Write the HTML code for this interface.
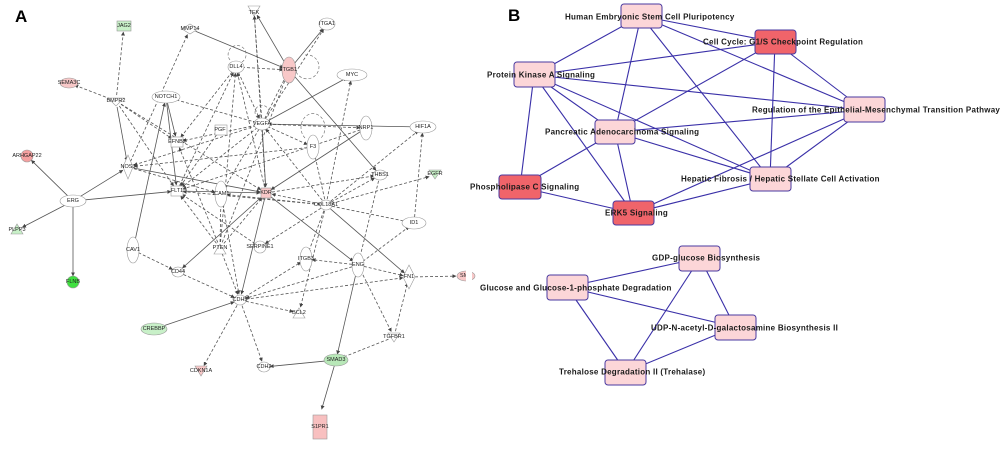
<!DOCTYPE html>
<html><head><meta charset="utf-8"><style>
html,body{margin:0;padding:0;background:#fff;}
svg{display:block;}
.a text{font-family:"Liberation Sans",sans-serif;font-size:5.5px;fill:#222;text-anchor:middle;dominant-baseline:central;}
.b text{font-family:"Liberation Sans",sans-serif;font-size:8px;letter-spacing:0.25px;font-weight:bold;fill:#1a1a1a;dominant-baseline:central;}
</style></head><body>
<svg id="s" width="1000" height="450" viewBox="0 0 1000 450" xmlns="http://www.w3.org/2000/svg">
<defs><marker id="ar" viewBox="0 0 6 6" refX="5.5" refY="3" markerWidth="5" markerHeight="5" orient="auto"><path d="M0,0L6,3L0,6z" fill="#444"/></marker></defs>
<text x="15" y="22" font-family="Liberation Sans,sans-serif" font-weight="bold" font-size="17">A</text>
<text x="508" y="21" font-family="Liberation Sans,sans-serif" font-weight="bold" font-size="17">B</text>
<g id="ea" stroke="#555" stroke-width="0.8" fill="none"></g>
<g id="eb" stroke="#3a30a8" stroke-width="1.1"></g>
<g id="na" class="a" stroke="#999" stroke-width="0.6">
<path d="M305,55 a12,12 0 1 1 -10,12" stroke="#666" stroke-dasharray="3,2" fill="none"/>
<path d="M230,60 a9,9 0 1 1 12,2" stroke="#666" stroke-dasharray="3,2" fill="none"/>
<path d="M258,118 a7,7 0 1 1 8,0" stroke="#666" stroke-dasharray="3,2" fill="none"/>
<path d="M305,138 a12,14 0 1 1 16,0" stroke="#666" stroke-dasharray="3,2" fill="none"/>
<polygon points="248,6 260,6 254,16" fill="#fff"/>
<rect x="117" y="21" width="14" height="10" fill="#c8f0c8"/>
<polygon points="182,29 190,24 198,29 190,34" fill="#fff"/>
<ellipse cx="327" cy="24" rx="8" ry="6" fill="#fff"/>
<ellipse cx="236" cy="67" rx="8" ry="6" fill="#fff"/>
<ellipse cx="289" cy="70" rx="7" ry="13" fill="#f8c8c8"/>
<ellipse cx="352" cy="75" rx="15" ry="6" fill="#fff"/>
<ellipse cx="69" cy="83" rx="9" ry="5" fill="#f8c8c8"/>
<polygon points="108,98 124,98 116,106" fill="#fff"/>
<ellipse cx="166" cy="97" rx="14" ry="6" fill="#fff"/>
<ellipse cx="262" cy="124" rx="8" ry="6" fill="#fff"/>
<rect x="215" y="125" width="12" height="10" fill="#fff"/>
<ellipse cx="366" cy="128" rx="6" ry="12" fill="#fff"/>
<ellipse cx="423" cy="127" rx="13" ry="6" fill="#fff"/>
<rect x="171" y="137" width="12" height="10" fill="#fff"/>
<ellipse cx="313" cy="147" rx="6" ry="12" fill="#fff"/>
<circle cx="27" cy="156" r="6" fill="#f4a0a0"/>
<polygon points="128,155 133,167 128,179 123,167" fill="#fff"/>
<ellipse cx="380" cy="175" rx="7" ry="5" fill="#fff"/>
<polygon points="429,170 441,170 435,179" fill="#c8f0c8"/>
<rect x="171" y="186" width="12" height="10" fill="#fff"/>
<ellipse cx="221" cy="194" rx="6" ry="13" fill="#fff"/>
<rect x="261" y="188" width="10" height="10" fill="#f8c8c8"/>
<ellipse cx="326" cy="205" rx="6" ry="5" fill="#fff"/>
<ellipse cx="73" cy="201" rx="13" ry="6" fill="#fff"/>
<polygon points="11,234 23,234 17,224" fill="#c8f0c8"/>
<ellipse cx="414" cy="223" rx="12" ry="6" fill="#fff"/>
<ellipse cx="133" cy="250" rx="6" ry="13" fill="#fff"/>
<polygon points="214,254 226,254 220,244" fill="#fff"/>
<ellipse cx="260" cy="247" rx="6" ry="6" fill="#fff"/>
<ellipse cx="306" cy="259" rx="6" ry="12" fill="#fff"/>
<ellipse cx="358" cy="265" rx="6" ry="12" fill="#fff"/>
<polygon points="409,265 415,277 409,289 403,277" fill="#fff"/>
<ellipse cx="466" cy="276" rx="9" ry="5" fill="#f8c8c8"/>
<circle cx="73" cy="282" r="6" fill="#40e040"/>
<ellipse cx="178" cy="272" rx="6" ry="5" fill="#fff"/>
<ellipse cx="240" cy="300" rx="6" ry="5" fill="#fff"/>
<polygon points="293,318 305,318 299,308" fill="#fff"/>
<ellipse cx="154" cy="329" rx="13" ry="6" fill="#c8f0c8"/>
<polygon points="388,333 400,333 394,342" fill="#fff"/>
<ellipse cx="336" cy="360" rx="12" ry="6" fill="#b8e8b8"/>
<polygon points="195,366 207,366 201,376" fill="#f8c8c8"/>
<ellipse cx="264" cy="367" rx="6" ry="5" fill="#fff"/>
<rect x="313" y="415" width="14" height="24" fill="#f8c0c0"/>
<g stroke="none">
<text x="254" y="13">TEK</text><text x="124" y="26">JAG2</text><text x="190" y="29">MMP14</text><text x="327" y="24">ITGA1</text><text x="236" y="67">DLL4</text><text x="289" y="70">ITGB1</text><text x="352" y="75">MYC</text><text x="69" y="83">SEMA3C</text><text x="116" y="101">BMPR2</text><text x="166" y="97">NOTCH1</text><text x="262" y="124">VEGFA</text><text x="220" y="130">PGF</text><text x="366" y="128">NRP1</text><text x="423" y="127">HIF1A</text><text x="177" y="142">EFNB2</text><text x="313" y="147">F3</text><text x="27" y="156">ARHGAP22</text><text x="128" y="167">NOS3</text><text x="380" y="175">THBS1</text><text x="435" y="174">EGFR</text><text x="177" y="191">FLT1</text><text x="221" y="194">ICAM1</text><text x="266" y="193">KDR</text><text x="326" y="205">COL18A1</text><text x="73" y="201">ERG</text><text x="17" y="230">PLPP3</text><text x="414" y="223">ID1</text><text x="133" y="250">CAV1</text><text x="220" y="248">PTEN</text><text x="260" y="247">SERPINE1</text><text x="306" y="259">ITGB3</text><text x="358" y="265">ENG</text><text x="409" y="277">FN1</text><text x="466" y="276">SMA</text><text x="73" y="282">FLNB</text><text x="178" y="272">CD44</text><text x="240" y="300">CDH5</text><text x="299" y="313">BCL2</text><text x="154" y="329">CREBBP</text><text x="394" y="337">TGFBR1</text><text x="336" y="360">SMAD3</text><text x="201" y="371">CDKN1A</text><text x="264" y="367">CDH2</text><text x="320" y="427">S1PR1</text>
</g></g>
<rect x="466" y="0" width="6" height="450" fill="#fff"/>
<g id="nb" class="b" stroke="#4a3aa0" stroke-width="1">
<rect x="621" y="4" width="41" height="24" rx="3" fill="#fcd6d8"/>
<rect x="755" y="30" width="41" height="24" rx="3" fill="#f0646a"/>
<rect x="514" y="62" width="41" height="25" rx="3" fill="#fcd6d8"/>
<rect x="844" y="97" width="41" height="25" rx="3" fill="#fcd6d8"/>
<rect x="595" y="120" width="40" height="24" rx="3" fill="#fcd6d8"/>
<rect x="499" y="175" width="42" height="24" rx="3" fill="#f0646a"/>
<rect x="750" y="167" width="41" height="24" rx="3" fill="#fcd6d8"/>
<rect x="613" y="201" width="41" height="24" rx="3" fill="#f0646a"/>
<rect x="679" y="246" width="41" height="25" rx="3" fill="#fcd6d8"/>
<rect x="547" y="275" width="41" height="25" rx="3" fill="#fcd6d8"/>
<rect x="715" y="315" width="41" height="25" rx="3" fill="#fcd6d8"/>
<rect x="605" y="360" width="41" height="25" rx="3" fill="#fcd6d8"/>
<g stroke="none">
<text x="565" y="17">Human Embryonic Stem Cell Pluripotency</text>
<text x="703" y="42">Cell Cycle: G1/S Checkpoint Regulation</text>
<text x="487" y="75">Protein Kinase A Signaling</text>
<text x="752" y="110">Regulation of the Epithelial-Mesenchymal Transition Pathway</text>
<text x="545" y="132">Pancreatic Adenocarcinoma Signaling</text>
<text x="470" y="187">Phospholipase C Signaling</text>
<text x="681" y="179">Hepatic Fibrosis / Hepatic Stellate Cell Activation</text>
<text x="605" y="213">ERK5 Signaling</text>
<text x="652" y="258">GDP-glucose Biosynthesis</text>
<text x="480" y="288">Glucose and Glucose-1-phosphate Degradation</text>
<text x="651" y="328">UDP-N-acetyl-D-galactosamine Biosynthesis II</text>
<text x="559" y="372">Trehalose Degradation II (Trehalase)</text>
</g></g>
</svg>
<script>
var N={TEK:[254,10],JAG2:[124,26],MMP14:[190,29],ITGA1:[327,24],DLL4:[236,67],ITGB1:[289,70],MYC:[352,75],SEMA3C:[69,83],BMPR2:[116,101],NOTCH1:[166,97],VEGFA:[262,124],PGF:[220,130],NRP1:[366,128],HIF1A:[423,127],EFNB2:[177,142],F3:[313,147],ARH:[27,156],NOS3:[128,167],THBS1:[380,175],EGFR:[435,175],FLT1:[177,191],ICAM1:[221,194],KDR:[266,193],COL:[326,205],ERG:[73,201],PLPP3:[17,230],ID1:[414,223],CAV1:[133,250],PTEN:[220,248],SERP:[260,247],ITGB3:[306,259],ENG:[358,265],FN1:[409,277],SMA:[462,276],FLNB:[73,282],CD44:[178,272],CDH5:[240,300],BCL2:[299,313],CREBBP:[154,329],TGFBR1:[394,337],SMAD3:[336,360],CDKN1A:[201,371],CDH2:[264,367],S1PR1:[320,415]};
var E="BMPR2 JAG2 D,BMPR2 SEMA3C D,BMPR2 NOS3 S,BMPR2 EFNB2 D,BMPR2 FLT1 D,BMPR2 KDR D,MMP14 ITGB1 S,NOS3 MMP14 D,ITGB1 TEK S,VEGFA TEK D,KDR TEK D,ITGB1 ITGA1 S,VEGFA ITGA1 D,DLL4 VEGFA D,KDR DLL4 D,DLL4 EFNB2 D,FLT1 DLL4 D,NOTCH1 EFNB2 S,NOTCH1 FLT1 S,VEGFA NOTCH1 D,CAV1 NOTCH1 S,VEGFA MYC S,HIF1A VEGFA S,VEGFA NRP1 D,VEGFA F3 D,VEGFA KDR S,VEGFA ITGB1 D,VEGFA NOS3 D,VEGFA EFNB2 D,VEGFA FLT1 D,ITGB1 THBS1 S,COL VEGFA D,PGF FLT1 D,VEGFA ICAM1 D,ERG ARH S,ERG NOS3 S,ERG FLT1 S,ERG PLPP3 S,ERG FLNB S,NOS3 KDR S,NOS3 ICAM1 D,FLT1 KDR S,NRP1 KDR S,KDR CDH5 S,KDR CD44 S,COL KDR D,KDR ENG S,KDR THBS1 D,COL EGFR D,COL THBS1 D,COL ID1 D,COL HIF1A D,COL MYC D,COL ITGB3 D,COL BCL2 D,COL SERP D,COL FLT1 D,COL ICAM1 D,COL FN1 S,COL F3 D,ENG ID1 D,ENG FN1 D,ENG TGFBR1 D,ENG SMAD3 S,ENG CDH5 D,ENG ITGB3 D,FN1 SMA D,TGFBR1 FN1 D,TGFBR1 SMAD3 D,SMAD3 CDH2 S,SMAD3 S1PR1 S,CREBBP CDH5 S,CDH5 CDKN1A D,CDH5 CDH2 D,CDH5 BCL2 D,CDH5 ITGB3 D,CD44 CDH5 D,CAV1 CD44 D,PTEN CDH5 D,PTEN FLT1 D,PTEN KDR D,PTEN EFNB2 D,PTEN ICAM1 D,PTEN DLL4 D,SERP FLT1 D,ICAM1 CDH5 D,THBS1 ENG D,NRP1 FLT1 D,F3 NOS3 D,DLL4 ITGB1 D,PTEN ITGB1 D,ID1 HIF1A D,CDH5 FN1 D".split(",");
var g=document.getElementById("ea"),ns="http://www.w3.org/2000/svg";
E.forEach(function(e){var p=e.split(" "),a=N[p[0]],b=N[p[1]];var dx=b[0]-a[0],dy=b[1]-a[1],L=Math.sqrt(dx*dx+dy*dy),r=6;
var l=document.createElementNS(ns,"line");l.setAttribute("x1",a[0]+dx/L*r);l.setAttribute("y1",a[1]+dy/L*r);l.setAttribute("x2",b[0]-dx/L*r);l.setAttribute("y2",b[1]-dy/L*r);
if(p[2]=="D")l.setAttribute("stroke-dasharray","3,2");l.setAttribute("marker-end","url(#ar)");g.appendChild(l);});
var M={H:[641,16],C:[775,42],P:[534,75],M:[864,110],A:[615,132],L:[520,187],F:[770,179],K:[633,213],G:[700,258],U:[567,287],D:[735,327],T:[626,372]};
var EB="HP HC HA HF HM PC PM PA PK PL PF CA CF CM AM AL AK AF MF MK FK LK GU GD GT UD UT DT".split(" ");
var gb=document.getElementById("eb");
EB.forEach(function(e){var a=M[e[0]],b=M[e[1]];var l=document.createElementNS(ns,"line");l.setAttribute("x1",a[0]);l.setAttribute("y1",a[1]);l.setAttribute("x2",b[0]);l.setAttribute("y2",b[1]);gb.appendChild(l);});
</script>
</body></html>
